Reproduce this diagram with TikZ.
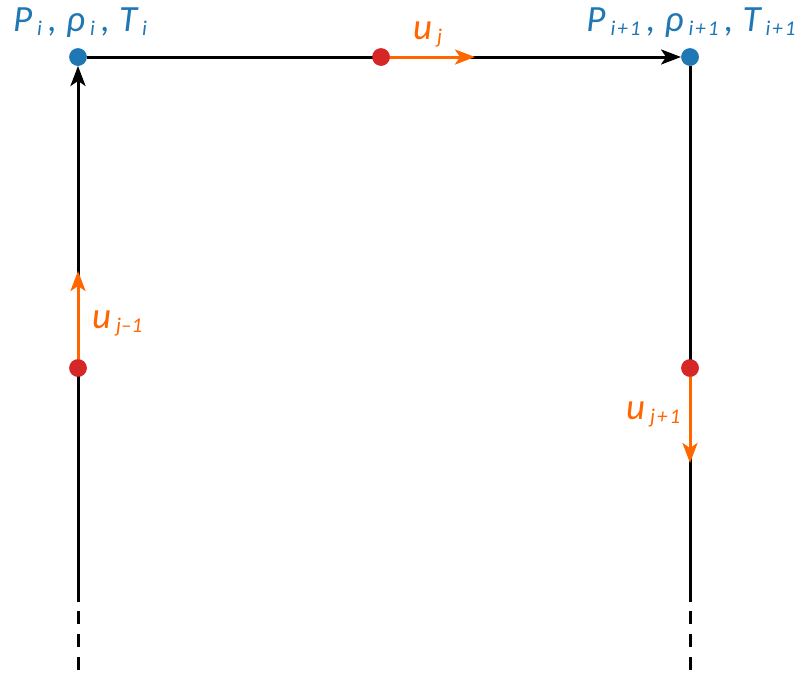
\documentclass[tikz,border=0pt]{standalone}
\usepackage{fontspec}
\setmainfont{Carlito}
\usetikzlibrary{arrows.meta}
\definecolor{cblue}{HTML}{1F77B4}
\definecolor{cred}{HTML}{D62728}
\definecolor{corange}{HTML}{FF6600}
\newcommand{\mysub}[1]{\kern5pt\raisebox{-4pt}{\fontsize{21}{21}\selectfont #1}}
\newcommand{\sep}{\kern6pt,\kern9pt}
\newcommand{\pl}{\kern2pt+\kern2pt}
\tikzset{
  wire/.style={line width=3pt, black},
  flow/.style={line width=3pt, corange, -{Stealth[length=20pt,width=15pt,inset=5pt]}},
  btip/.style={-{Stealth[length=20pt,width=15pt,inset=5pt]}},
  dot/.style={circle, inner sep=0pt, minimum size=17.5pt},
  lbl/.style={inner sep=0pt, font=\fontsize{37}{37}\selectfont\itshape},
}
\begin{document}
\begin{tikzpicture}[x=1pt,y=-1pt]
\useasboundingbox (0,0) rectangle (802,675);
% nodes
\node[dot, fill=cblue] (A) at (78,57) {};
\node[dot, fill=cblue] (B) at (690,57) {};
\node[dot, fill=cred] (C) at (381,57) {};
\node[dot, fill=cred] (L) at (78,368) {};
\node[dot, fill=cred] (R) at (690,368) {};
\coordinate (LB) at (78,602);
\coordinate (LE) at (78,672);
\coordinate (RB) at (690,602);
\coordinate (RE) at (690,672);
\coordinate (UT) at (475,57);
\coordinate (LT) at (78,271);
\coordinate (RT) at (690,463);
% wires
\draw[wire, btip] (LB) -- (A);
\draw[wire, btip] (A) -- (B);
\draw[wire] (B) -- (RB);
\draw[wire, dash pattern=on 13pt off 10pt] (LB) ++(0,9) -- (LE);
\draw[wire, dash pattern=on 13pt off 10pt] (RB) ++(0,9) -- (RE);
% flows
\draw[flow] (C.center) -- (UT);
\draw[flow] (L.center) -- (LT);
\draw[flow] (R.center) -- (RT);
% redraw dots on top
\fill[cred] (C) circle (8.75pt);
\fill[cred] (L) circle (8.75pt);
\fill[cred] (R) circle (8.75pt);
\fill[cblue] (A) circle (8.75pt);
\fill[cblue] (B) circle (8.75pt);
% labels
\node[lbl, text=cblue, anchor=base] (la) at (80,31) {P\mysub{i}\sep ρ\mysub{i}\sep T\mysub{i}};
\node[lbl, text=cblue, anchor=base] (lb) at (691,31) {P\mysub{i\pl 1}\sep ρ\mysub{i\pl 1}\sep T\mysub{i\pl 1}};
\node[lbl, text=corange, anchor=base west] (lu) at (413,39) {u\mysub{j}};
\node[lbl, text=corange, anchor=base west] (ll) at (92,328) {u\mysub{j–1}};
\node[lbl, text=corange, anchor=base west] (lr) at (626,419) {u\mysub{j\pl 1}};
\end{tikzpicture}
\end{document}
